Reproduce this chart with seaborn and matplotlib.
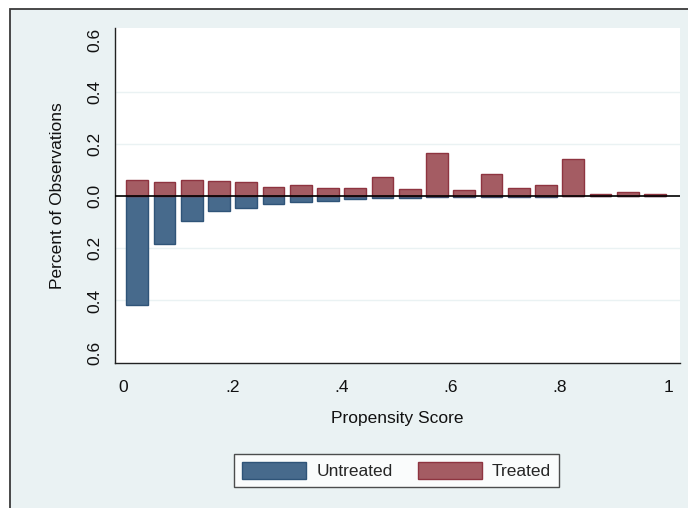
import numpy as np
import pandas as pd
import matplotlib
matplotlib.use("Agg")
import matplotlib.pyplot as plt
from matplotlib.patches import Rectangle, Patch
import seaborn as sns

# Data: propensity score bins (centers) and share of observations
bin_centers = [0.025, 0.075, 0.125, 0.175, 0.225, 0.275, 0.325, 0.375, 0.425, 0.475,
               0.525, 0.575, 0.625, 0.675, 0.725, 0.775, 0.825, 0.875, 0.925, 0.975]
untreated = [0.416, 0.183, 0.093, 0.055, 0.045, 0.028, 0.022, 0.017, 0.010, 0.007,
             0.008, 0.003, 0.003, 0.003, 0.002, 0.001, 0.0, 0.0, 0.0, 0.0]
treated = [0.064, 0.054, 0.064, 0.058, 0.054, 0.036, 0.042, 0.031, 0.031, 0.073,
           0.028, 0.166, 0.023, 0.084, 0.033, 0.045, 0.143, 0.008, 0.017, 0.007]
x_ticks = [0, 0.2, 0.4, 0.6, 0.8, 1.0]
x_ticklabels = ["0", ".2", ".4", ".6", ".8", "1"]
y_ticks = [-0.6, -0.4, -0.2, 0.0, 0.2, 0.4, 0.6]
y_ticklabels = ["0.6", "0.4", "0.2", "0.0", "0.2", "0.4", "0.6"]

sns.set_style("white")
plt.rcParams["font.family"] = ["Liberation Sans", "DejaVu Sans"]

BG = "#EAF2F3"
BLUE = "#476A8C"
BLUE_E = "#2F5478"
RED = "#A45C63"
RED_E = "#8E3440"
FS = 12.5

fig = plt.figure(figsize=(6.88, 5.08), dpi=100)
fig.patch.set_facecolor("white")
fig.add_artist(Rectangle((10 / 688, -0.1), 1.2, (1 - 9 / 508) + 0.1,
                         transform=fig.transFigure, facecolor=BG,
                         edgecolor="#3a3a3a", lw=1.3, zorder=-10))

ax = fig.add_axes([115 / 688, 1 - 363 / 508, (680 - 115) / 688, (363 - 28) / 508])
ax.set_facecolor("white")

df_u = pd.DataFrame({"x": bin_centers, "y": [-v for v in untreated]})
df_t = pd.DataFrame({"x": bin_centers, "y": treated})

sns.barplot(data=df_u, x="x", y="y", native_scale=True, width=0.8,
            color=BLUE, edgecolor=BLUE_E, linewidth=1.0, saturation=1, ax=ax, zorder=3)
sns.barplot(data=df_t, x="x", y="y", native_scale=True, width=0.8,
            color=RED, edgecolor=RED_E, linewidth=1.0, saturation=1, ax=ax, zorder=3)

ax.set_xlim(-0.0158, 1.021)
ax.set_ylim(-0.64, 0.646)

for g in [-0.4, -0.2, 0.2, 0.4]:
    ax.axhline(g, color=BG, lw=1.0, zorder=1)
ax.axhline(0, color="black", lw=1.2, zorder=4)

ax.set_xticks(x_ticks)
ax.set_xticklabels(x_ticklabels)
ax.set_yticks(y_ticks)
ax.set_yticklabels(y_ticklabels, rotation=90, va="center")
ax.tick_params(axis="both", direction="out", length=5, width=1, color="#222222",
               labelsize=FS, labelcolor="#111111", pad=4)
ax.tick_params(axis="x", pad=7)

for s in ["top", "right"]:
    ax.spines[s].set_visible(False)
for s in ["left", "bottom"]:
    ax.spines[s].set_color("#222222")
    ax.spines[s].set_linewidth(1.0)

ax.set_xlabel("Propensity Score", fontsize=FS, color="#111111", labelpad=12)
ax.set_ylabel("Percent of Observations", fontsize=FS, color="#111111", labelpad=16)

handles = [Patch(facecolor=BLUE, edgecolor=BLUE_E, lw=1.0, label="Untreated"),
           Patch(facecolor=RED, edgecolor=RED_E, lw=1.0, label="Treated")]
leg = fig.legend(handles=handles, loc="center", bbox_to_anchor=(396.5 / 688, 1 - 470.5 / 508),
                 ncol=2, frameon=True, fancybox=False, fontsize=FS,
                 handlelength=3.7, handleheight=1.2, columnspacing=1.45,
                 handletextpad=0.58, borderpad=0.45)
leg.get_frame().set_edgecolor("#222222")
leg.get_frame().set_linewidth(1.0)
leg.get_frame().set_facecolor("white")

fig.savefig("out.png", dpi=100, facecolor=fig.get_facecolor())
